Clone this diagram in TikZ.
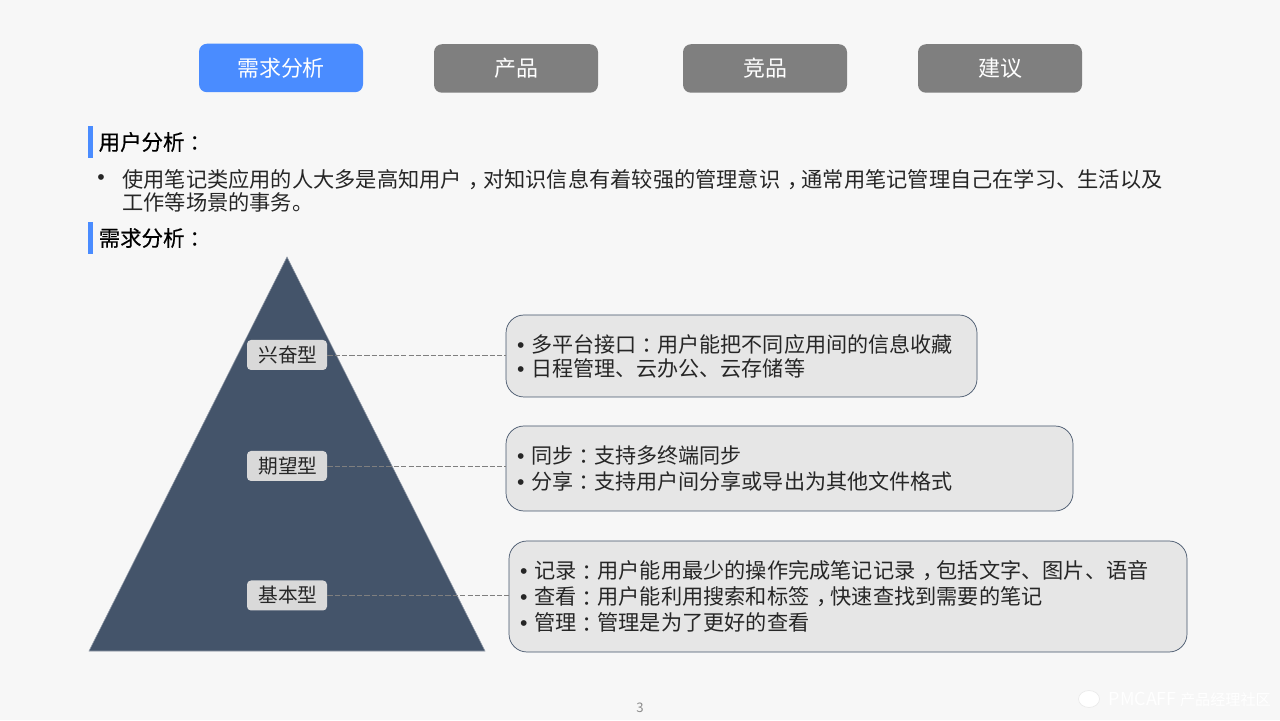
\documentclass[tikz,border=0pt]{standalone}
\usepackage{fontspec}
\setmainfont{Noto Sans CJK SC}
\newfontfamily\headfont[FakeBold=0.3]{Noto Sans CJK SC}
\newfontfamily\colonfont{Noto Sans CJK TC}
\newfontfamily\dotfont{Liberation Sans}
\usepackage{tikz}
\usetikzlibrary{positioning}
\usetikzlibrary{shapes.geometric}

\definecolor{PageGrey}{HTML}{F7F7F7}
\definecolor{TabBlue}{HTML}{4A8CFF}
\definecolor{TabGrey}{HTML}{7F7F7F}
\definecolor{Slate}{HTML}{44546A}
\definecolor{LabelGrey}{HTML}{D9D9D9}
\definecolor{BoxGrey}{HTML}{E6E6E6}
\definecolor{InkDark}{HTML}{262626}

\newcommand{\zhcolon}{\raisebox{-0.07em}{\colonfont ：}}
\newcommand{\zhcomma}{\kern0.32em，\kern-0.32em}
\newcommand{\dotitem}{\makebox[0.28cm][l]{\dotfont •}}

\tikzset{
	tab/.style={minimum width=3.28cm, minimum height=0.97cm, inner sep=0pt, rounded corners=0.16cm, text=white, font=\fontsize{12.5}{15}\selectfont},
	bar/.style={fill=TabBlue, minimum width=0.10cm, minimum height=0.64cm, inner sep=0pt},
	heading/.style={inner sep=0pt, text=black, font=\headfont\fontsize{12.2}{15}\selectfont},
	level/.style={fill=LabelGrey, minimum width=1.60cm, minimum height=0.60cm, inner sep=0pt, rounded corners=0.08cm, text=InkDark, font=\fontsize{11.2}{14}\selectfont},
	detail/.style={draw=Slate, line width=0.4pt, fill=BoxGrey, rounded corners=0.36cm, inner ysep=0pt, inner xsep=0.22cm, align=left, text=InkDark},
	guide/.style={TabGrey, line width=0.4pt, dash pattern=on 3pt off 1.2pt},
}

\begin{document}
\begin{tikzpicture}
	
	\useasboundingbox (0,0) rectangle (25.60cm,14.40cm);
	\fill[PageGrey] (0,0) rectangle (25.60cm,14.40cm);
	
	% ------------------------------------------------
	% Tabs
	\node[tab, fill=TabBlue] (TabNeeds) at (5.62cm,13.04cm) {需求分析};
	\node[tab, fill=TabGrey] (TabProduct) at (10.32cm,13.03cm) {产品};
	\node[tab, fill=TabGrey] (TabRival) at (15.30cm,13.03cm) {竞品};
	\node[tab, fill=TabGrey] (TabAdvice) at (20.00cm,13.03cm) {建议};
	
	% ------------------------------------------------
	% Headings and intro text
	\node[bar] (BarUser) at (1.81cm,11.56cm) {};
	\node[heading, right=0.10cm of BarUser] (HeadUser) {用户分析\zhcolon};
	
	\node[inner sep=0pt, text=InkDark, font=\dotfont\fontsize{12.1}{13.1}\selectfont] (IntroDot) at (2.02cm,10.80cm) {•};
	\node[anchor=west, inner sep=0pt, align=left, text=InkDark, font=\fontsize{12.08}{13.1}\selectfont] (Intro) at (2.44cm,10.58cm)
		{使用笔记类应用的人大多是高知用户\zhcomma 对知识信息有着较强的管理意识\zhcomma 通常用笔记管理自己在学习、生活以及\\工作等场景的事务。};
	
	\node[bar] (BarNeeds) at (1.81cm,9.64cm) {};
	\node[heading, right=0.10cm of BarNeeds] (HeadNeeds) {需求分析\zhcolon};
	
	% ------------------------------------------------
	% Pyramid
	\coordinate (Apex) at (5.74cm,9.26cm);
	\path (Apex) +(-3.96cm,-7.88cm) coordinate (BaseLeft);
	\path (Apex) +(3.96cm,-7.88cm) coordinate (BaseRight);
	
	\draw[fill=Slate, draw=Slate!60, line width=0.3pt] (Apex) -- (BaseLeft) -- (BaseRight) -- cycle;
	
	% ----------------
	% Levels
	\node[level] (LevelExcite) at (5.74cm,7.30cm) {\kern0.04cm 兴奋型};
	\node[level] (LevelExpect) at (5.74cm,5.08cm) {\kern0.04cm 期望型};
	\node[level] (LevelBasic) at (5.74cm,2.49cm) {\kern0.04cm 基本型};
	
	% ----------------
	% Detail boxes
	\node[detail, minimum width=9.42cm, minimum height=1.64cm, text width=8.98cm, font=\fontsize{12.0}{13.65}\selectfont] (BoxExcite) at (14.83cm,7.28cm)
		{\dotitem 多平台接口\zhcolon 用户能把不同应用间的信息收藏\\\dotitem 日程管理、云办公、云存储等};
	\node[detail, minimum width=11.34cm, minimum height=1.70cm, text width=10.90cm, font=\fontsize{12.0}{14.8}\selectfont] (BoxExpect) at (15.79cm,5.03cm)
		{\dotitem 同步\zhcolon 支持多终端同步\\\dotitem 分享\zhcolon 支持用户间分享或导出为其他文件格式};
	\node[detail, minimum width=13.56cm, minimum height=2.22cm, text width=13.12cm, font=\fontsize{12.06}{14.8}\selectfont] (BoxBasic) at (16.96cm,2.47cm)
		{\dotitem 记录\zhcolon 用户能用最少的操作完成笔记记录\zhcomma 包括文字、图片、语音\\\dotitem 查看\zhcolon 用户能利用搜索和标签\zhcomma 快速查找到需要的笔记\\\dotitem 管理\zhcolon 管理是为了更好的查看};
	
	\draw[guide] (LevelExcite.east) -- (LevelExcite.east -| BoxExcite.west);
	\draw[guide] (LevelExpect.east) -- (LevelExpect.east -| BoxExpect.west);
	\draw[guide] (LevelBasic.east) -- (LevelBasic.east -| BoxBasic.west);
	
	% ------------------------------------------------
	% Footer
	\node[inner sep=0pt, text=TabGrey!90, font=\fontsize{7.5}{9}\selectfont] (PageNo) at (12.80cm,0.25cm) {3};
	\node[ellipse, fill=white, draw=black!8, line width=0.4pt, minimum width=0.42cm, minimum height=0.34cm, inner sep=0pt] (MarkLogo) at (21.78cm,0.42cm) {};
	\node[right=0.17cm of MarkLogo, inner sep=0pt, text=white, font=\fontsize{8.6}{10}\selectfont] (MarkText) {{\fontsize{10.2}{10}\selectfont PMCAFF} 产品经理社区};
	
\end{tikzpicture}
\end{document}
